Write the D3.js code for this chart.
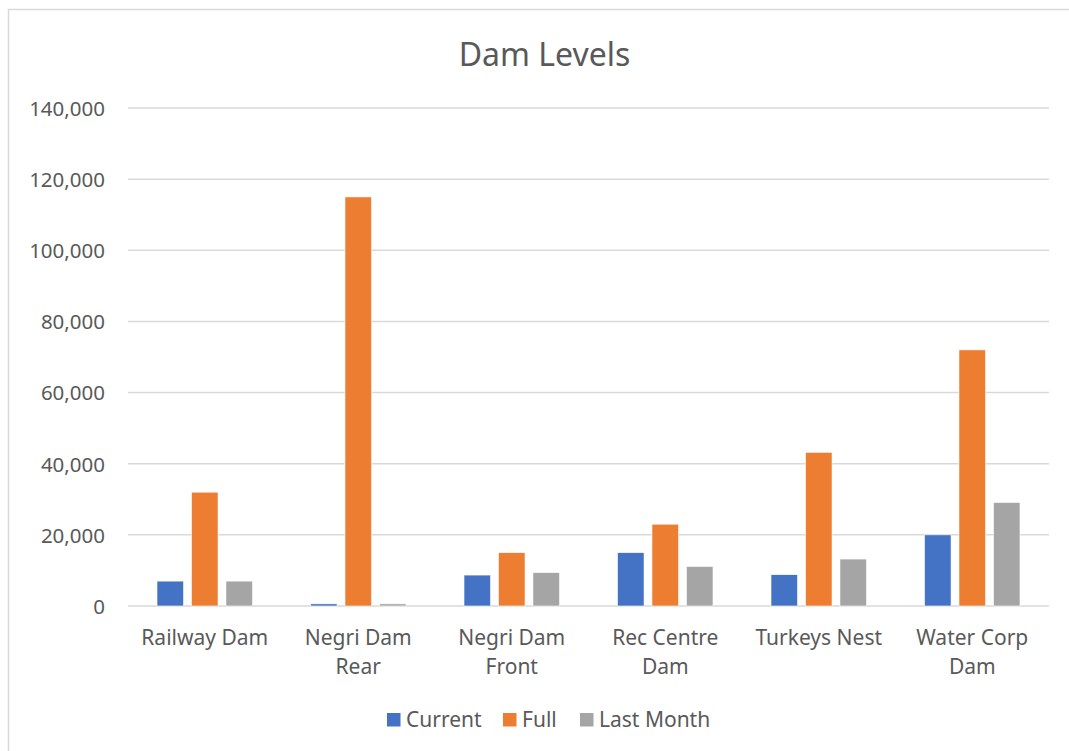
<!DOCTYPE html>
<html>
<head>
<meta charset="utf-8">
<script src="https://cdn.jsdelivr.net/npm/d3@7/dist/d3.min.js"></script>
<style>
  html, body { margin: 0; padding: 0; background: #fff; overflow: hidden; }
  svg { display: block; font-family: "Noto Sans", "Open Sans", sans-serif; }
</style>
</head>
<body>
<svg id="chart" width="1069" height="751"></svg>
<script>
const title = "Dam Levels";
const categories = ["Railway Dam", "Negri Dam\nRear", "Negri Dam\nFront", "Rec Centre\nDam", "Turkeys Nest", "Water Corp\nDam"];
const seriesNames = ["Current", "Full", "Last Month"];
const current = [7000, 600, 8700, 15000, 8800, 20000];
const full = [32000, 115000, 15000, 23000, 43200, 72000];
const lastMonth = [7000, 600, 9400, 11100, 13200, 29100];
const yTicks = [0, 20000, 40000, 60000, 80000, 100000, 120000, 140000];
const colors = ["#4472C4", "#ED7D31", "#A5A5A5"];

const seriesValues = [current, full, lastMonth];
const svg = d3.select("#chart");

// chart border
svg.append("rect").attr("x", 8.5).attr("y", 9.5).attr("width", 1100).attr("height", 800)
  .attr("fill", "#fff").attr("stroke", "#D9D9D9").attr("stroke-width", 1.5);

const plotL = 128, plotR = 1049, plotT = 108, plotB = 606;

const y = d3.scaleLinear().domain([0, 140000]).range([plotB, plotT]);
const x0 = d3.scaleBand().domain(categories).range([plotL, plotR]).padding(0);
const groupW = 95.5;
const x1 = d3.scaleBand().domain(seriesNames)
  .range([(x0.bandwidth() - groupW) / 2, (x0.bandwidth() + groupW) / 2])
  .paddingInner(0.23).paddingOuter(0);

// gridlines
svg.append("g").selectAll("line").data(yTicks).join("line")
  .attr("x1", plotL).attr("x2", plotR)
  .attr("y1", d => y(d)).attr("y2", d => y(d))
  .attr("stroke", "#D9D9D9").attr("stroke-width", 1.5);

// y axis labels
const yAxis = d3.axisLeft(y).tickValues(yTicks).tickFormat(d3.format(",")).tickSize(0).tickPadding(0);
const yg = svg.append("g").attr("transform", `translate(105,0)`).call(yAxis);
yg.select(".domain").remove();
yg.selectAll("text").attr("fill", "#595959").style("font-size", "20.5px")
  .style("font-family", "\"Noto Sans\", sans-serif").attr("dy", "0.36em");

// bars
const groups = svg.append("g").selectAll("g").data(categories).join("g")
  .attr("transform", d => `translate(${x0(d)},0)`);
groups.selectAll("rect")
  .data((c, i) => seriesNames.map((s, j) => ({ s, v: seriesValues[j][i], j })))
  .join("rect")
  .attr("x", d => x1(d.s))
  .attr("width", x1.bandwidth())
  .attr("y", d => y(d.v))
  .attr("height", d => y(0) - y(d.v))
  .attr("fill", d => colors[d.j])
  .attr("stroke", "#fff").attr("stroke-width", 0.6);

// x axis labels
const xl = svg.append("g").selectAll("text").data(categories).join("text")
  .attr("x", d => x0(d) + x0.bandwidth() / 2)
  .attr("y", 645)
  .attr("text-anchor", "middle")
  .attr("fill", "#595959").style("font-size", "21px");
xl.selectAll("tspan").data(d => d.split("\n")).join("tspan")
  .attr("x", function() { return d3.select(this.parentNode).attr("x"); })
  .attr("dy", (d, i) => i === 0 ? 0 : 29)
  .text(d => d);

// title
svg.append("text").attr("x", 544.5).attr("y", 66).attr("text-anchor", "middle")
  .attr("fill", "#595959").style("font-size", "32px").text(title);

// legend
const legendX = [387, 503, 580];
const lg = svg.append("g").selectAll("g").data(seriesNames).join("g")
  .attr("transform", (d, i) => `translate(${legendX[i]},713)`);
lg.append("rect").attr("width", 13.5).attr("height", 13.5).attr("fill", (d, i) => colors[i]);
lg.append("text").attr("x", 19).attr("y", 13.5)
  .attr("fill", "#595959").style("font-size", "21px").text(d => d);
</script>
</body>
</html>
